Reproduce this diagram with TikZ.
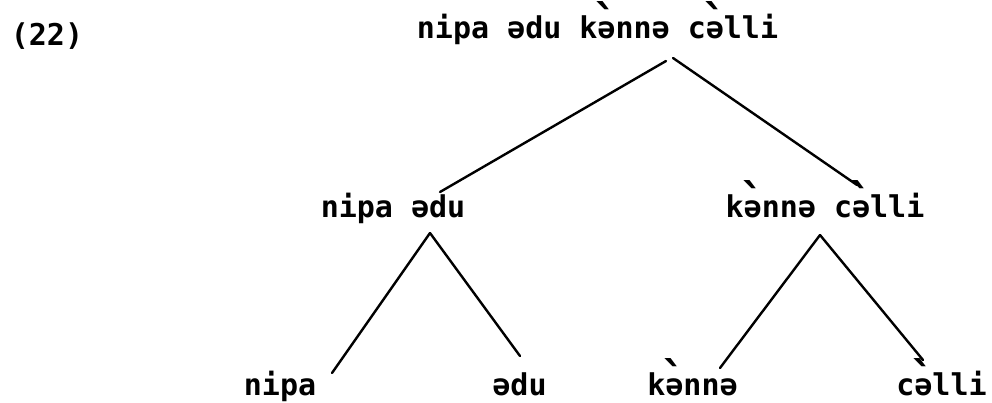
\documentclass[tikz,border=0pt]{standalone}
\usepackage{fontspec}
\usepackage{graphicx}
\newfontfamily\treefont{DejaVu Sans Mono}
% schwa with a grave accent drawn above it
\newcommand\sgr{\ooalign{ə\cr\hidewidth\raisebox{0.02em}{\scalebox{1.5}{\char"60}}\hidewidth\cr}}
\begin{document}
\begin{tikzpicture}[x=1pt,y=1pt,
  lbl/.style={inner sep=0pt, anchor=base, font=\treefont\bfseries\fontsize{30}{32}\selectfont},
  branch/.style={line width=2.4pt, line cap=round}]
\useasboundingbox[fill=white] (0,0) rectangle (992,-402);
% labels
\node[lbl] (num)  at (47,-45)    {(22)};
\node[lbl] (root) at (597.5,-38) {nipa ədu k\sgr nnə c\sgr lli};
\node[lbl] (ml)   at (393,-217)  {nipa ədu};
\node[lbl] (mr)   at (825,-217)  {k\sgr nnə c\sgr lli};
\node[lbl] (b1)   at (280,-395)  {nipa};
\node[lbl] (b2)   at (519.5,-395) {ədu};
\node[lbl] (b3)   at (692.5,-395) {k\sgr nnə};
\node[lbl] (b4)   at (941.5,-395) {c\sgr lli};
% branch points
\coordinate (root-l) at (666,-61);
\coordinate (root-r) at (673,-58);
\coordinate (ml-in)  at (440,-192);
\coordinate (mr-in)  at (857,-185);
\coordinate (ml-top) at (430,-233);
\coordinate (mr-top) at (820,-235);
\coordinate (b1-in)  at (332,-373);
\coordinate (b2-in)  at (520,-356);
\coordinate (b3-in)  at (720,-368);
\coordinate (b4-in)  at (923,-360);
% branches
\draw[branch] (root-l) -- (ml-in);
\draw[branch] (root-r) -- (mr-in);
\draw[branch] (ml-top) -- (b1-in);
\draw[branch] (ml-top) -- (b2-in);
\draw[branch] (mr-top) -- (b3-in);
\draw[branch] (mr-top) -- (b4-in);
\end{tikzpicture}
\end{document}
